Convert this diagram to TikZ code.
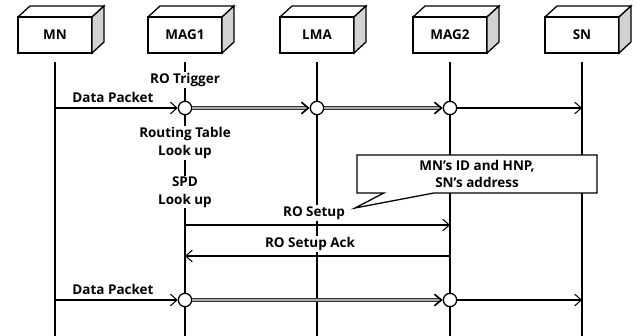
\documentclass[tikz,border=0pt]{standalone}
\usepackage{fontspec}
\setmainfont{Open Sans}
\usetikzlibrary{positioning,arrows.meta,shapes.callouts}

\begin{document}
\begin{tikzpicture}[
    x=0.03cm, y=-0.03cm,
    font=\fontsize{11.5}{15}\selectfont\bfseries,
    entity/.style={
        draw,
        rectangle,
        line width=1.1pt,
        fill=white,
        outer sep=0pt,
        minimum width=2.22cm,
        minimum height=1.08cm
    },
    life/.style={line width=1.1pt},
    event/.style={draw, circle, line width=1.1pt, fill=white, minimum size=0.4cm, inner sep=0pt},
    lbl/.style={fill=white, inner sep=1pt, align=center},
    msg/.style={->, line width=0.9pt, >={Straight Barb[length=5.5pt,width=10pt,line width=0.9pt]}},
    tunnel/.style={line width=0.6pt, draw=black!80, double=gray!65, double distance=1.5pt,
        -{Straight Barb[length=6pt,width=10pt,line width=1.4pt,color=black]}}
]
\useasboundingbox (0,0) rectangle (637,336);

% entities and lifelines
\foreach \name/\txt/\x in {mn/MN/55, mag1/MAG1/185, lma/LMA/317, mag2/MAG2/450, sn/SN/582} {
    \coordinate (\name-top) at (\x,62);
    \coordinate (\name-bot) at (\x,336);
    \draw[life] (\name-top) -- (\name-bot);
    \node[entity] (\name) at (\x,35) {\txt};
    \draw[line width=1.1pt] (\name.north west) -- ++(12,-11) -- ++(74,0) -- (\name.north east);
    \draw[line width=1.1pt, fill=gray!35] (\name.north east) -- ++(12,-11) -- ++(0,36) -- (\name.south east) -- cycle;
}

% labels on MAG1
\node[lbl] (trigger) at (185,80) {RO Trigger};
\node[lbl] (routing) at (185,143) {Routing Table\\Look up};
\node[lbl] (spd) at (185,192) {SPD\\Look up};

% first data packet
\node[event] (e1) at (185,108) {};
\node[event] (e2) at (317,108) {};
\node[event] (e3) at (450,108) {};
\node[lbl, fill=none] (dp1) at (113,97) {Data Packet};
\draw[msg] (mn-top |- e1) -- (e1);
\draw[tunnel] (e1) -- (e2);
\draw[tunnel] (e2) -- (e3);
\draw[msg] (e3) -- (sn-top |- e3);

% RO setup
\coordinate (setup1) at (185,225);
\coordinate (setup2) at (450,225);
\coordinate (ack1) at (450,256);
\coordinate (ack2) at (185,256);
\node[lbl] (setup) at (314,213) {RO Setup};
\node[lbl] (ack) at (310,244) {RO Setup Ack};
\draw[msg] (setup1) -- (setup2);
\draw[msg] (ack1) -- (ack2);

% note
\node[rectangle callout, draw, line width=1.1pt, fill=white, align=center,
    minimum width=7.2cm, minimum height=1.14cm, inner sep=1pt,
    callout absolute pointer={(355,208)}, callout pointer width=1.5cm] (note) at (477,174)
    {MN’s ID and HNP,\\SN’s address};

% second data packet
\node[event] (e4) at (185,300) {};
\node[event] (e5) at (450,300) {};
\node[lbl, fill=none] (dp2) at (113,289) {Data Packet};
\draw[msg] (mn-top |- e4) -- (e4);
\draw[tunnel] (e4) -- (e5);
\draw[msg] (e5) -- (sn-top |- e5);

\end{tikzpicture}
\end{document}
